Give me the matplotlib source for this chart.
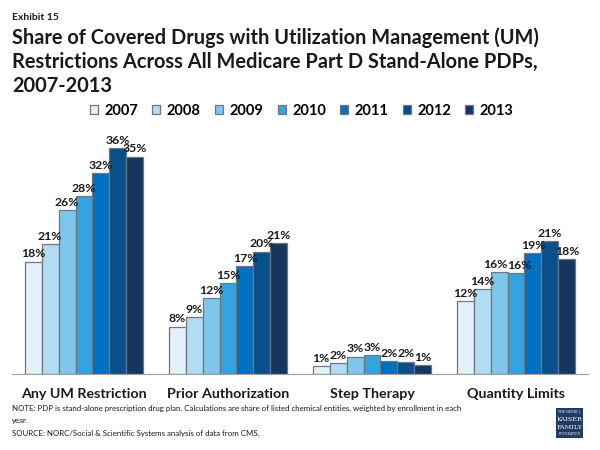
import matplotlib
matplotlib.use("Agg")
import matplotlib.pyplot as plt
import numpy as np
from matplotlib.patches import Rectangle

categories = ["Any UM Restriction", "Prior Authorization", "Step Therapy", "Quantity Limits"]
years = ["2007", "2008", "2009", "2010", "2011", "2012", "2013"]
# values per year (in %), one list per year across the 4 categories
v2007 = [18.0, 7.6, 1.3, 11.7]
v2008 = [20.8, 9.1, 1.8, 13.6]
v2009 = [26.2, 12.1, 2.8, 16.3]
v2010 = [28.5, 14.6, 3.0, 16.1]
v2011 = [32.2, 17.3, 2.1, 19.4]
v2012 = [36.2, 19.6, 2.0, 21.3]
v2013 = [34.8, 21.0, 1.4, 18.4]
labels2007 = ["18%", "8%", "1%", "12%"]
labels2008 = ["21%", "9%", "2%", "14%"]
labels2009 = ["26%", "12%", "3%", "16%"]
labels2010 = ["28%", "15%", "3%", "16%"]
labels2011 = ["32%", "17%", "2%", "19%"]
labels2012 = ["36%", "20%", "2%", "21%"]
labels2013 = ["35%", "21%", "1%", "18%"]

series = [v2007, v2008, v2009, v2010, v2011, v2012, v2013]
labels = [labels2007, labels2008, labels2009, labels2010, labels2011, labels2012, labels2013]
colors = ["#E3F1FA", "#B1DCF3", "#7DC6EC", "#35A3E0", "#0070C0", "#08508A", "#17365D"]
# small horizontal nudges (points) for crowded labels: (category index, year index) -> dx
nudges = {(3, 2): -2.5, (3, 3): 2.5}

plt.rcParams['font.family'] = ['Lato', 'DejaVu Sans']

fig = plt.figure(figsize=(6, 4.5), dpi=100)
ax = fig.add_axes([0.02, 1 - 374 / 450, 0.96, 250 / 450])

n = len(years)
bw = 0.118
x = np.arange(len(categories))
for i, (vals, lab, c) in enumerate(zip(series, labels, colors)):
    pos = x - bw * n / 2 + bw * (i + 0.5)
    ax.bar(pos, vals, width=bw, color=c, edgecolor="#6E7780", linewidth=0.9,
           label=years[i], zorder=2)
    for j, (p, v, t) in enumerate(zip(pos, vals, lab)):
        dx = nudges.get((j, i), 0)
        ax.annotate(t, (p, v), xytext=(dx, 1.5), textcoords="offset points",
                    ha="center", va="bottom", fontsize=8.8,
                    fontweight="bold", color="#1a1a1a", annotation_clip=False)

ax.set_xlim(-0.5, 3.5)
ax.set_ylim(0, 40)
for s in ["top", "right", "left"]:
    ax.spines[s].set_visible(False)
ax.spines["bottom"].set_color("#A0A0A0")
ax.set_yticks([])
ax.set_xticks(x)
ax.set_xticklabels(categories, fontsize=10.3, fontweight="bold", color="#1a1a1a")
ax.tick_params(axis="x", length=0, pad=10)

leg = fig.legend(loc="center", bbox_to_anchor=(0.503, 1 - 111 / 450), ncol=7,
                 frameon=False, prop={"weight": "bold", "size": 10.5},
                 handlelength=0.55, handleheight=0.55, handletextpad=0.45,
                 columnspacing=0.97)
for h in leg.legend_handles:
    h.set_edgecolor("#6E7780")

fig.text(0.02, 1 - 17 / 450, "Exhibit 15", fontsize=7.5, fontweight="bold",
         va="center", ha="left", color="#1a1a1a")
fig.text(0.02, 1 - 27.5 / 450,
         "Share of Covered Drugs with Utilization Management (UM)\n"
         "Restrictions Across All Medicare Part D Stand-Alone PDPs,\n"
         "2007-2013",
         fontsize=14.4, fontweight="bold", va="top", ha="left",
         linespacing=1.26, color="#1a1a1a")

fig.text(0.02, 1 - 405 / 450,
         "NOTE: PDP is stand-alone prescription drug plan. Calculations are share of listed chemical entities, weighted by enrollment in each\n"
         "year.\n"
         "SOURCE: NORC/Social & Scientific Systems analysis of data from CMS.",
         fontsize=5.7, va="top", ha="left", linespacing=1.87, color="#1a1a1a")

# logo
lx0, ly0, lw, lh = 556 / 600, 1 - 438 / 450, 27 / 600, 30 / 450
fig.patches.append(Rectangle((lx0, ly0), lw, lh, transform=fig.transFigure,
                             facecolor="#1F3A64", edgecolor="none"))
fig.text(lx0 + lw / 2, ly0 + lh * 0.87, "THE HENRY J.", fontsize=2.2, color="white",
         ha="center", va="center", family="DejaVu Serif")
fig.text(lx0 + lw / 2, ly0 + lh * 0.62, "KAISER", fontsize=4.6, color="white",
         ha="center", va="center", family="DejaVu Serif")
fig.text(lx0 + lw / 2, ly0 + lh * 0.36, "FAMILY", fontsize=4.6, color="white",
         ha="center", va="center", family="DejaVu Serif")
fig.text(lx0 + lw / 2, ly0 + lh * 0.12, "FOUNDATION", fontsize=2.2, color="white",
         ha="center", va="center", family="DejaVu Serif")

fig.savefig("out.png", dpi=100)
